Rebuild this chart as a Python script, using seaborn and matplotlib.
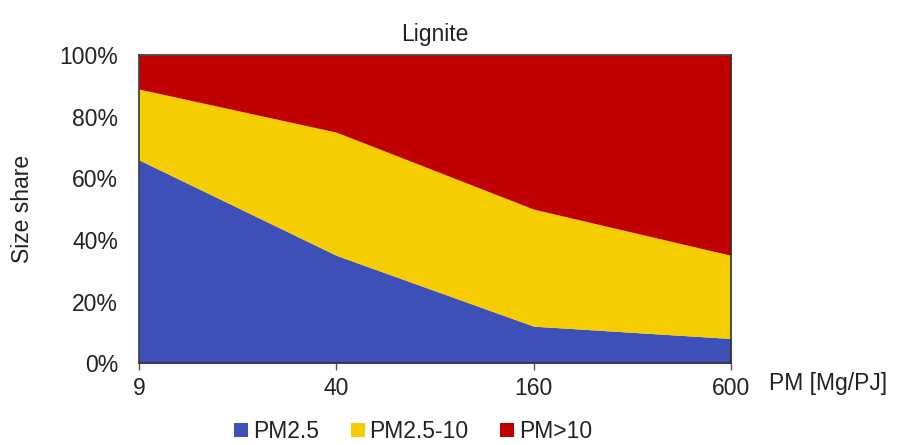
import matplotlib
matplotlib.use("Agg")
import matplotlib.pyplot as plt
from matplotlib.patches import Patch
import numpy as np
import seaborn as sns

# PM emission factor classes (Mg/PJ) and size-fraction shares (%)
emission_classes = ["9", "40", "160", "600"]
pm25 = [66, 35, 12, 8]
pm25_10 = [23, 40, 38, 27]
pm_gt10 = [11, 25, 50, 65]
series_names = ["PM2.5", "PM2.5-10", "PM>10"]
colors = ["#3D50B8", "#F6CD00", "#C00000"]
y_ticks = [0, 20, 40, 60, 80, 100]

sns.set_theme(style="white")
plt.rcParams["font.family"] = ["Liberation Sans", "DejaVu Sans"]

FS = 16.5
TXT = "#222222"

fig = plt.figure(figsize=(8.98, 4.45), dpi=100)
ax = fig.add_axes([0.1548, 0.184, 0.6592, 0.692])

x = np.arange(len(emission_classes))
ax.stackplot(x, pm25, pm25_10, pm_gt10, colors=colors, linewidth=0)

ax.set_xlim(x[0], x[-1])
ax.set_ylim(0, 100)
ax.set_xticks(x)
ax.set_xticklabels(emission_classes, fontsize=FS, color=TXT)
ax.set_yticks(y_ticks)
ax.set_yticklabels([f"{v}%" for v in y_ticks], fontsize=FS, color=TXT)
ax.tick_params(axis="x", which="both", bottom=True, length=5, width=1,
               color="#555555", pad=5)
ax.tick_params(axis="y", which="both", left=False, pad=9)

for side in ["left", "bottom", "right", "top"]:
    ax.spines[side].set_visible(True)
    ax.spines[side].set_color("#333333")
    ax.spines[side].set_linewidth(1.2)

ax.set_title("Lignite", fontsize=FS, color=TXT, pad=10)
ax.set_ylabel("Size share", fontsize=FS, color=TXT)
ax.yaxis.set_label_coords(-0.178, 0.5)
fig.text(0.856, 0.139, "PM [Mg/PJ]", fontsize=FS, color=TXT,
         ha="left", va="center")

handles = [Patch(facecolor=c, edgecolor="none") for c in colors]
fig.legend(handles, series_names, loc="center", bbox_to_anchor=(0.46, 0.03),
           ncol=3, frameon=False, fontsize=FS, handlelength=0.6,
           handleheight=0.6, handletextpad=0.2, columnspacing=1.4,
           labelcolor=TXT)

fig.savefig("out.png", dpi=100)
